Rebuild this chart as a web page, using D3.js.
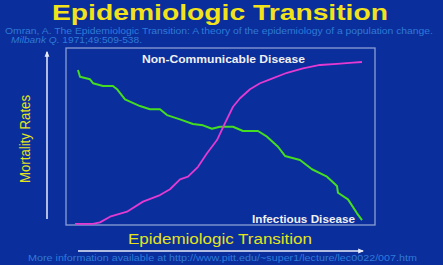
<!DOCTYPE html>
<html>
<head>
<meta charset="utf-8">
<script src="https://cdn.jsdelivr.net/npm/d3@7"></script>
<style>
  html, body { margin: 0; padding: 0; background: #0a2e9c; }
  svg { display: block; }
</style>
</head>
<body>
<div id="chart"></div>
<script>
// Epidemiologic transition: infectious vs non-communicable mortality
const stage = [12, 14, 24, 27, 37, 47, 51, 59, 74, 84, 94, 101, 114, 127, 137, 146, 154, 167, 177, 192, 201, 212, 219, 234, 246, 261, 271, 272, 282, 291, 296];
const infectious = [87.6, 83.8, 82.3, 80.1, 78.5, 78.5, 76.7, 71.0, 67.2, 65.4, 65.4, 62.1, 59.7, 57.1, 56.3, 54.4, 55.5, 55.5, 53.1, 53.1, 49.9, 44.2, 39.0, 36.7, 31.5, 27.3, 22.0, 18.2, 14.5, 6.6, 2.8];

const stageNcd = [9, 27, 34, 44, 61, 77, 94, 104, 114, 122, 132, 141, 151, 159, 167, 174, 184, 194, 204, 221, 237, 254, 271, 287, 296];
const nonCommunicable = [0.6, 0.6, 1.5, 4.7, 7.5, 13.2, 16.9, 20.2, 25.8, 27.3, 32.9, 40.5, 48.0, 57.5, 66.8, 71.6, 76.7, 80.1, 82.3, 86.0, 88.5, 90.4, 91.0, 91.7, 92.1];

const width = 443, height = 265;
const box = { left: 66, top: 48, right: 375, bottom: 225 };
const font = 'Liberation Sans, Arial, sans-serif';

const svg = d3.select('#chart').append('svg')
  .attr('width', width)
  .attr('height', height);

svg.append('rect').attr('width', width).attr('height', height).attr('fill', '#0a2e9c');

const x = d3.scaleLinear().domain([0, 309]).range([box.left, box.right]);
const y = d3.scaleLinear().domain([0, 100]).range([box.bottom, box.top]);

// title + citation
svg.append('text')
  .attr('x', 52).attr('y', 20)
  .attr('font-family', font)
  .attr('font-weight', 'bold')
  .attr('font-size', 22)
  .attr('textLength', 336)
  .attr('lengthAdjust', 'spacingAndGlyphs')
  .attr('fill', '#f2e21a')
  .text('Epidemiologic Transition');

const cite = svg.append('g')
  .attr('font-family', font)
  .attr('font-size', 8.5)
  .attr('fill', '#2f7ad8');
cite.append('text').attr('x', 5).attr('y', 34)
  .attr('textLength', 428).attr('lengthAdjust', 'spacingAndGlyphs')
  .text('Omran, A.  The Epidemiologic Transition: A theory of the epidemiology of a population change.');
const c2 = cite.append('text').attr('x', 11).attr('y', 43)
  .attr('textLength', 131).attr('lengthAdjust', 'spacingAndGlyphs');
c2.append('tspan').attr('font-style', 'italic').text('Milbank Q.');
c2.append('tspan').text(' 1971;49:509-538.');

// box
svg.append('rect')
  .attr('x', box.left).attr('y', box.top)
  .attr('width', box.right - box.left).attr('height', box.bottom - box.top)
  .attr('fill', 'none')
  .attr('stroke', '#8c9ed6')
  .attr('stroke-width', 1.3);

// arrows
const defs = svg.append('defs');
defs.append('marker')
  .attr('id', 'head')
  .attr('viewBox', '0 0 10 10')
  .attr('refX', 8).attr('refY', 5)
  .attr('markerWidth', 4).attr('markerHeight', 4)
  .attr('orient', 'auto')
  .append('path').attr('d', 'M0,1L10,5L0,9Z').attr('fill', '#e8ecf8');

svg.append('line')
  .attr('x1', 47).attr('y1', 219).attr('x2', 47).attr('y2', 52)
  .attr('stroke', '#e8ecf8').attr('stroke-width', 1.5)
  .attr('marker-end', 'url(#head)');
svg.append('line')
  .attr('x1', 78).attr('y1', 251).attr('x2', 363).attr('y2', 251)
  .attr('stroke', '#e8ecf8').attr('stroke-width', 1.5)
  .attr('marker-end', 'url(#head)');

// axis labels
svg.append('text')
  .attr('transform', 'translate(30,139) rotate(-90)')
  .attr('text-anchor', 'middle')
  .attr('font-family', font)
  .attr('font-size', 14)
  .attr('textLength', 88)
  .attr('lengthAdjust', 'spacingAndGlyphs')
  .attr('fill', '#e4e41c')
  .text('Mortality Rates');

svg.append('text')
  .attr('x', 128).attr('y', 244)
  .attr('font-family', font)
  .attr('font-size', 14)
  .attr('textLength', 184)
  .attr('lengthAdjust', 'spacingAndGlyphs')
  .attr('fill', '#e4e41c')
  .text('Epidemiologic Transition');

svg.append('text')
  .attr('x', 28).attr('y', 261)
  .attr('font-family', font)
  .attr('font-size', 8.5)
  .attr('textLength', 389)
  .attr('lengthAdjust', 'spacingAndGlyphs')
  .attr('fill', '#2f7ad8')
  .text('More information available at http://www.pitt.edu/~super1/lecture/lec0022/007.htm');

// curves
const line = d3.line().x(d => x(d[0])).y(d => y(d[1])).curve(d3.curveLinear);

svg.append('path')
  .datum(stage.map((s, i) => [s, infectious[i]]))
  .attr('d', line)
  .attr('fill', 'none')
  .attr('stroke', '#45dd22')
  .attr('stroke-width', 2)
  .attr('stroke-linejoin', 'round');

svg.append('path')
  .datum(stageNcd.map((s, i) => [s, nonCommunicable[i]]))
  .attr('d', line)
  .attr('fill', 'none')
  .attr('stroke', '#e43ad2')
  .attr('stroke-width', 1.8)
  .attr('stroke-linejoin', 'round');

// series labels
const lab = svg.append('g')
  .attr('font-family', font)
  .attr('font-weight', 'bold')
  .attr('font-size', 10.5)
  .attr('lengthAdjust', 'spacingAndGlyphs')
  .attr('fill', '#f0f0f0');
lab.append('text').attr('x', 142).attr('y', 63)
  .attr('textLength', 163).attr('lengthAdjust', 'spacingAndGlyphs')
  .text('Non-Communicable Disease');
lab.append('text').attr('x', 252).attr('y', 223)
  .attr('textLength', 103).attr('lengthAdjust', 'spacingAndGlyphs')
  .text('Infectious Disease');
</script>
</body>
</html>
